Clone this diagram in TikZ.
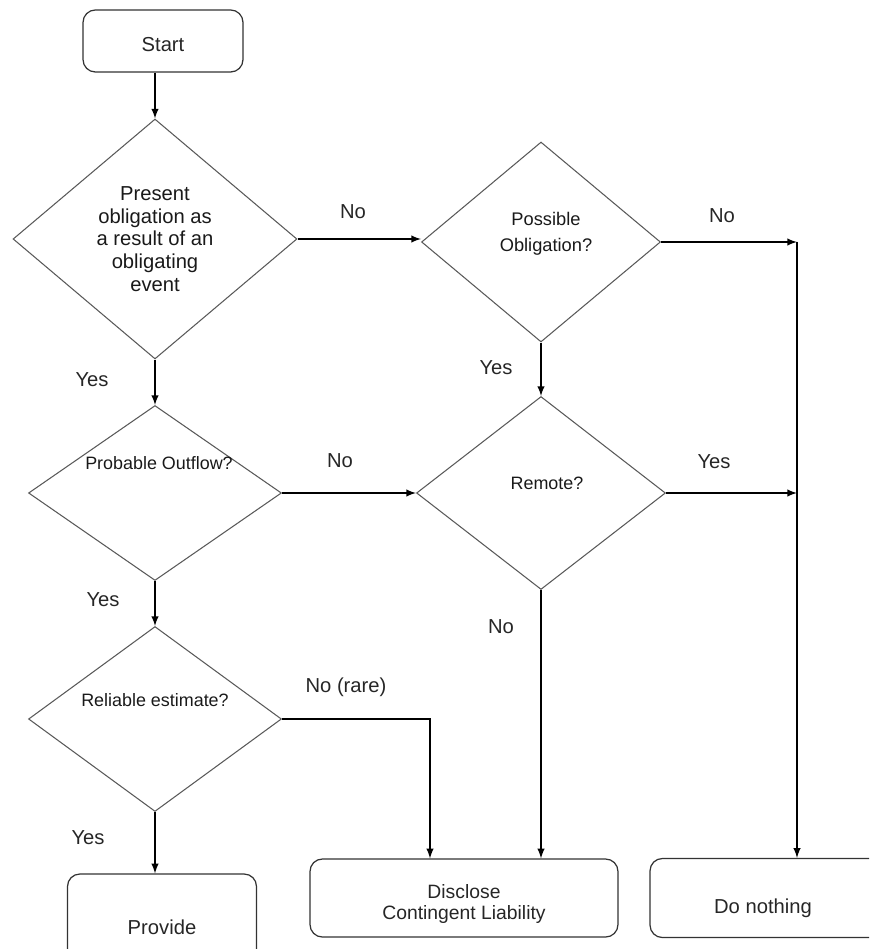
\documentclass[tikz,border=0pt]{standalone}
\usepackage{fontspec}
\setmainfont{Liberation Sans}
\usetikzlibrary{shapes.geometric}

\begin{document}
\begin{tikzpicture}[x=0.02cm, y=-0.02cm, >=latex,
    box/.style={draw=black!80, line width=0.7pt, rounded corners=7pt},
    dia/.style={diamond, draw=black!65, line width=0.6pt, inner sep=0pt},
    dtxt/.style={align=center, font=\fontsize{10.2}{14}\selectfont, text=black!90},
    lbl/.style={font=\fontsize{11.5}{13}\selectfont, text=black!85},
    flow/.style={->, line width=0.9pt}]

% fix the frame
\useasboundingbox (0,0) rectangle (869,949);
\clip (0,0) rectangle (869,949);

% the boxes
\node[box, minimum width=3.2cm, minimum height=1.24cm] (start) at (163,41) {};
\node[lbl] (tstart) at (163,45) {Start};
\node[box, minimum width=3.78cm, minimum height=1.84cm] (prov) at (162,920) {};
\node[lbl] (tprov) at (162,927) {Provide};
\node[box, minimum width=6.16cm, minimum height=1.56cm] (disc) at (464,898) {};
\node[lbl, align=center, font=\fontsize{11}{12.5}\selectfont] (tdisc) at (464,904) {Disclose\\Contingent Liability};
\node[box, minimum width=4.8cm, minimum height=1.58cm] (dn) at (770,898) {};
\node[lbl] (tdn) at (763,908) {Do nothing};

% the decisions
\node[dia, minimum width=5.68cm, minimum height=4.8cm] (d1) at (155,239) {};
\node[dtxt, font=\fontsize{11.5}{13}\selectfont] (t1) at (155,239) {Present\\obligation as\\a result of an\\obligating\\event};
\node[dia, minimum width=5.06cm, minimum height=3.5cm] (d2) at (155,493) {};
\node[dtxt] (t2) at (159,463) {Probable Outflow?};
\node[dia, minimum width=5.06cm, minimum height=3.7cm] (d3) at (155,719) {};
\node[dtxt] (t3) at (155,700) {Reliable estimate?};
\node[dia, minimum width=4.78cm, minimum height=4.0cm] (d4) at (541,242) {};
\node[dtxt, font=\fontsize{10.4}{14.5}\selectfont] (t4) at (546,234) {Possible\\Obligation?};
\node[dia, minimum width=4.98cm, minimum height=3.86cm] (d5) at (541,493) {};
\node[dtxt] (t5) at (547,483) {Remote?};

% corner points of the connectors
\coordinate (j1) at (797,242);
\coordinate (j2) at (797,493);
\coordinate (k3) at (430,0);

% the connectors
\draw[flow] (d1.north |- start.south) -- (d1.north);
\draw[flow] (d1.south) -- (d2.north);
\draw[flow] (d2.south) -- (d3.north);
\draw[flow] (d3.south) -- (d3.south |- prov.north);
\draw[flow] (d1.east) -- (d1.east -| d4.west);
\draw[flow] (d4.south) -- (d5.north);
\draw[flow] (d2.east) -- (d5.west);
\draw[flow] (d4.east) -- (j1);
\draw[flow] (d5.east) -- (j2);
\draw[flow] (j1) -- (j1 |- dn.north);
\draw[flow] (d5.south) -- (d5.south |- disc.north);
\draw[flow] (d3.east) -| (disc.north -| k3);

% the answers
\node[lbl] (yes1) at (92,380) {Yes};
\node[lbl] (no1) at (353,212) {No};
\node[lbl] (no4) at (722,216) {No};
\node[lbl] (yes4) at (496,368) {Yes};
\node[lbl] (no2) at (340,461) {No};
\node[lbl] (yes5) at (714,462) {Yes};
\node[lbl] (yes2) at (103,600) {Yes};
\node[lbl] (no5) at (501,627) {No};
\node[lbl] (no3) at (346,687) {No (rare)};
\node[lbl] (yes3) at (88,838) {Yes};
\end{tikzpicture}
\end{document}
